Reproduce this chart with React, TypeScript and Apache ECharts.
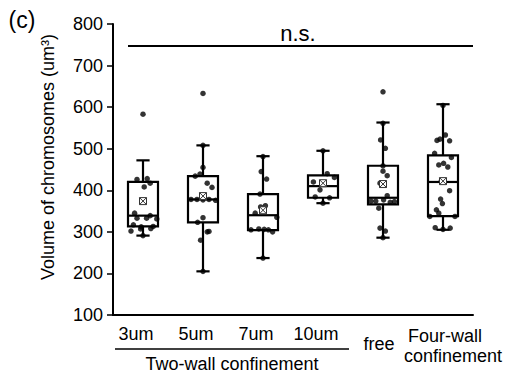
import React, { useEffect, useRef } from "react";
import * as echarts from "echarts";

const categories = ["3um", "5um", "7um", "10um", "free", "Four-wall confinement"];
const yTicks = [100, 200, 300, 400, 500, 600, 700, 800];

// [lowWhisker, q1, median, q3, highWhisker, mean]
const boxStats: number[][] = [
  [291, 313, 339, 420, 472, 374],
  [205, 323, 378, 434, 508, 386],
  [237, 304, 340, 391, 482, 352],
  [369, 382, 410, 436, 495, 417],
  [286, 366, 382, 459, 563, 415],
  [305, 338, 420, 484, 607, 422],
];

// points: [value, jitter (category units)]
const points3um: number[][] = [
  [583, 0], [426, -0.1], [428, 0.07], [417, 0.12], [408, 0.02], [345, -0.14], [333, -0.1], [333, 0.06],
  [339, 0.12], [331, 0.23], [317, -0.16], [312, -0.03], [313, 0.17], [302, -0.2], [307, -0.04], [308, 0.13], [291, 0],
];
const points5um: number[][] = [
  [633, 0], [508, 0], [455, 0], [434, -0.13], [439, -0.05], [417, 0.07], [407, 0.15], [378, -0.2], [378, -0.1],
  [377, 0], [378, 0.1], [376, 0.21], [334, 0], [323, -0.09], [300, 0.07], [301, 0.1], [280, -0.04], [205, 0],
];
const points7um: number[][] = [
  [481, 0], [445, -0.03], [427, 0.06], [391, -0.05], [345, -0.13], [360, -0.04], [363, 0.04], [335, 0.23],
  [305, -0.2], [307, -0.07], [306, 0.02], [305, 0.09], [300, 0.16], [237, 0],
];
const points10um: number[][] = [
  [495, 0], [440, 0.07], [431, 0.19], [420, -0.16], [401, -0.05], [384, -0.13], [382, 0.11], [369, 0],
];
const pointsFree: number[][] = [
  [637, 0], [561, 0], [521, -0.04], [501, 0.04], [459, 0], [446, 0], [435, 0.07], [417, -0.05], [387, 0.07],
  [374, -0.2], [374, -0.12], [371, 0.12], [373, 0.19], [377, 0.01], [357, -0.07], [309, -0.05], [302, 0.04], [286, 0],
];
const pointsFourWall: number[][] = [
  [604, 0], [533, 0.04], [523, -0.05], [520, -0.1], [519, 0.11], [489, -0.14], [479, 0.14], [465, 0.01],
  [461, -0.07], [456, 0.08], [422, -0.03], [399, 0.11], [379, -0.04], [368, -0.01], [353, -0.11], [345, -0.07],
  [337, -0.22], [337, 0.2], [310, -0.13], [306, 0], [309, 0.12],
];
const allPoints = [points3um, points5um, points7um, points10um, pointsFree, pointsFourWall];

const FONT = "Liberation Sans, Arial, Helvetica, sans-serif";

export default function App() {
  const ref = useRef<HTMLDivElement>(null);
  useEffect(() => {
    document.body.style.margin = "0";
    const chart = echarts.init(ref.current!, null, { renderer: "svg" });
    const scatterData: number[][] = [];
    allPoints.forEach((grp, i) => grp.forEach(([v, dx]) => scatterData.push([i + dx, v])));
    const boxData = boxStats.map((s, i) => [i, ...s]);

    chart.setOption({
      animation: false,
      backgroundColor: "#fff",
      textStyle: { fontFamily: FONT },
      grid: { left: 113, right: 37, top: 24, bottom: 60 },
      xAxis: [
        {
          type: "category",
          data: categories,
          axisLine: { onZero: false, lineStyle: { color: "#000", width: 2 } },
          axisTick: { show: false },
          axisLabel: {
            interval: 0,
            margin: 9,
            color: "#000",
            fontFamily: FONT,
            formatter: (val: string, idx: number) => {
              if (idx < 4) return `{a|${val}}`;
              if (idx === 4) return `{b|${val}}`;
              const parts = val.split(" ");
              return `{c|${parts[0]}}\n{d|${parts[1]}}`;
            },
            rich: {
              a: { fontSize: 18, lineHeight: 20, padding: [0, 14, 0, 0], align: "center", color: "#000", fontFamily: FONT },
              b: { fontSize: 18, lineHeight: 20, padding: [20, 8, 0, 0], align: "center", color: "#000", fontFamily: FONT },
              c: { fontSize: 18, lineHeight: 20, padding: [4, 0, 0, 4], align: "center", color: "#000", fontFamily: FONT },
              d: { fontSize: 18, lineHeight: 20, padding: [3, 0, 0, 20], align: "center", color: "#000", fontFamily: FONT },
            },
          },
        },
        { type: "value", min: -0.5, max: 5.5, show: false },
      ],
      yAxis: {
        type: "value",
        min: yTicks[0],
        max: yTicks[yTicks.length - 1],
        interval: 100,
        splitLine: { show: false },
        axisLine: { show: true, onZero: false, lineStyle: { color: "#000", width: 2 } },
        axisTick: { show: true, length: 6, lineStyle: { color: "#000", width: 1.5 } },
        axisLabel: { fontSize: 18, color: "#000", margin: 10, fontFamily: FONT },
      },
      graphic: [
        { type: "text", x: 22, y: 20, style: { text: "(c)", fontSize: 23, fill: "#000", align: "center", verticalAlign: "middle", fontFamily: FONT } },
        {
          type: "text", x: 48, y: 157, rotation: Math.PI / 2,
          style: { text: "Volume of chromosomes (um³)", fontSize: 18, fill: "#000", align: "center", verticalAlign: "middle", fontFamily: FONT },
        },
        { type: "line", shape: { x1: 128, y1: 46, x2: 473, y2: 46 }, style: { stroke: "#000", lineWidth: 2 } },
        { type: "text", x: 298, y: 33, style: { text: "n.s.", fontSize: 22, fill: "#000", align: "center", verticalAlign: "middle", fontFamily: FONT } },
        { type: "line", shape: { x1: 115, y1: 349, x2: 349, y2: 349 }, style: { stroke: "#000", lineWidth: 1.5 } },
        { type: "text", x: 232, y: 364, style: { text: "Two-wall confinement", fontSize: 18, fill: "#000", align: "center", verticalAlign: "middle", fontFamily: FONT } },
      ],
      series: [
        {
          type: "custom",
          xAxisIndex: 0,
          data: boxData,
          encode: { x: 0, y: [1, 2, 3, 4, 5] },
          z: 2,
          renderItem: (params: any, api: any) => {
            const x = api.value(0);
            const lo = api.coord([x, api.value(1)]);
            const q1 = api.coord([x, api.value(2)]);
            const med = api.coord([x, api.value(3)]);
            const q3 = api.coord([x, api.value(4)]);
            const hi = api.coord([x, api.value(5)]);
            const band = api.size([1, 0])[0];
            const bw = band * 0.5;
            const cw = band * 0.22;
            const cx = q1[0];
            const st = { stroke: "#000", lineWidth: 2.2, fill: null };
            return {
              type: "group",
              children: [
                { type: "line", shape: { x1: cx, y1: hi[1], x2: cx, y2: q3[1] }, style: st },
                { type: "line", shape: { x1: cx, y1: q1[1], x2: cx, y2: lo[1] }, style: st },
                { type: "line", shape: { x1: cx - cw / 2, y1: hi[1], x2: cx + cw / 2, y2: hi[1] }, style: st },
                { type: "line", shape: { x1: cx - cw / 2, y1: lo[1], x2: cx + cw / 2, y2: lo[1] }, style: st },
                { type: "rect", shape: { x: cx - bw / 2, y: q3[1], width: bw, height: q1[1] - q3[1] }, style: { stroke: "#000", lineWidth: 2.2, fill: "rgba(0,0,0,0)" } },
                { type: "line", shape: { x1: cx - bw / 2, y1: med[1], x2: cx + bw / 2, y2: med[1] }, style: st },
              ],
            };
          },
        },
        {
          type: "scatter",
          xAxisIndex: 1,
          data: scatterData,
          symbolSize: 5.5,
          itemStyle: { color: "#000" },
          z: 3,
        },
        {
          type: "custom",
          xAxisIndex: 0,
          data: boxData,
          encode: { x: 0, y: 6 },
          z: 4,
          renderItem: (params: any, api: any) => {
            const x = api.value(0);
            const m = api.coord([x, api.value(6)]);
            const h = 3.5;
            const st = { stroke: "#333", lineWidth: 1 };
            return {
              type: "group",
              children: [
                { type: "rect", shape: { x: m[0] - h, y: m[1] - h, width: 2 * h, height: 2 * h }, style: { stroke: "#333", lineWidth: 1, fill: "#fff" } },
                { type: "line", shape: { x1: m[0] - h, y1: m[1] - h, x2: m[0] + h, y2: m[1] + h }, style: st },
                { type: "line", shape: { x1: m[0] + h, y1: m[1] - h, x2: m[0] - h, y2: m[1] + h }, style: st },
              ],
            };
          },
        },
      ],
    });
    return () => chart.dispose();
  }, []);
  return <div ref={ref} style={{ width: 510, height: 375, position: "absolute", left: 0, top: 0 }} />;
}
